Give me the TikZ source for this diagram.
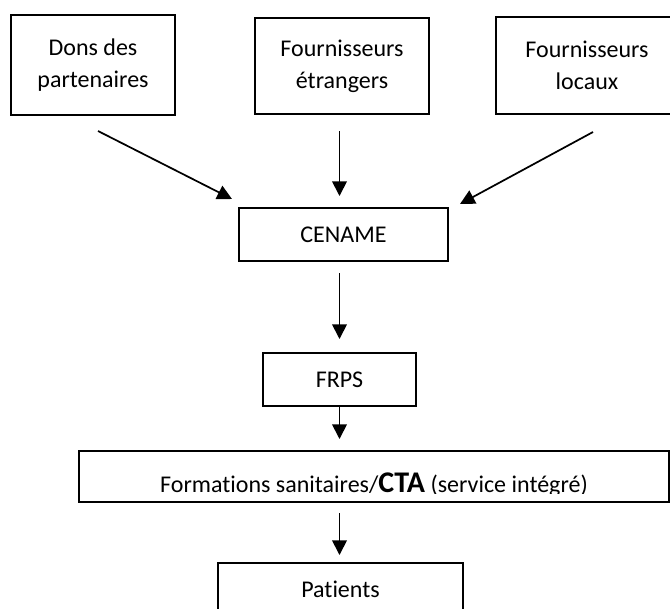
\documentclass[tikz,border=0pt]{standalone}
\usepackage{fontspec}
\setmainfont{Carlito}[Ligatures=NoCommon]
\usetikzlibrary{arrows.meta}

\tikzset{every picture/.style={line width=0.75pt}}
\tikzset{
  boite/.style={draw, line width=1.5pt, inner sep=0.75pt, align=center, font=\fontsize{18}{24}\selectfont},
  texte/.style={inner sep=0pt, font=\fontsize{18}{24}\selectfont},
  fleche/.style={line width=1.3pt, -{Triangle[length=11pt,width=11pt]}}
}

\begin{document}
\begin{tikzpicture}[x=0.75pt,y=0.75pt,yscale=-1,xscale=1]
%set diagram left start at 0, and has height of 608
\useasboundingbox (0,0) rectangle (670,608);

%Shape: Rectangle [id:dons]
\draw (93,65) node [boite, minimum width=123pt, minimum height=75pt] (dons) {Dons des\\partenaires};
%Shape: Rectangle [id:etr]
\draw (342,66) node [boite, minimum width=130.5pt, minimum height=72pt] (etr) {Fournisseurs\\étrangers};
%Shape: Rectangle [id:loc]
\draw (587,65.5) node [boite, minimum width=136.5pt, minimum height=72.75pt] (loc) {Fournisseurs\\locaux};
%Shape: Rectangle [id:cename]
\draw (343.5,234.5) node [boite, minimum width=156.75pt, minimum height=39.75pt] (cename) {CENAME};
%Shape: Rectangle [id:frps]
\draw (339.5,379.5) node [boite, minimum width=114.75pt, minimum height=39.75pt] (frps) {FRPS};
%Shape: Rectangle [id:fosa]
\draw (374,476.5) node [boite, minimum width=442.5pt, minimum height=38.25pt] (fosa) {};
%Shape: Rectangle [id:pat]
\draw (340.5,589.5) node [boite, minimum width=183.75pt, minimum height=39.75pt] (pat) {};

% Text Node
\begin{scope}
\clip (80,452) rectangle (668,493.5);
\draw (374,492.7) node [texte, anchor=base] (fosatxt) {Formations sanitaires/{\fontsize{22.5}{27}\selectfont\bfseries CTA} (service intégré)};
\end{scope}
% Text Node
\draw (340.5,597) node [texte, anchor=base] (pattxt) {Patients};

%Straight Lines [id:dons-cename]
\draw [fleche] ([xshift=3.75pt,yshift=11.25pt]dons.south) -- ([xshift=-4.5pt,yshift=-6pt]cename.north west) ;
%Straight Lines [id:etr-cename]
\draw [fleche, shorten <=12pt, shorten >=8.25pt] (frps.north |- etr.south) -- (frps.north |- cename.north) ;
%Straight Lines [id:loc-cename]
\draw [fleche] ([xshift=4.5pt,yshift=12.75pt]loc.south) -- ([xshift=8.25pt,yshift=-2.25pt]cename.north east) ;
%Straight Lines [id:cename-frps]
\draw [fleche, shorten <=8.25pt, shorten >=9.75pt] (frps.north |- cename.south) -- (frps.north) ;
%Straight Lines [id:frps-fosa]
\draw [fleche, shorten >=8.25pt] (frps.south) -- (frps.south |- fosa.north) ;
%Straight Lines [id:fosa-pat]
\draw [fleche, shorten <=7.5pt, shorten >=5.25pt] (frps.south |- fosa.south) -- (frps.south |- pat.north) ;

\end{tikzpicture}
\end{document}
